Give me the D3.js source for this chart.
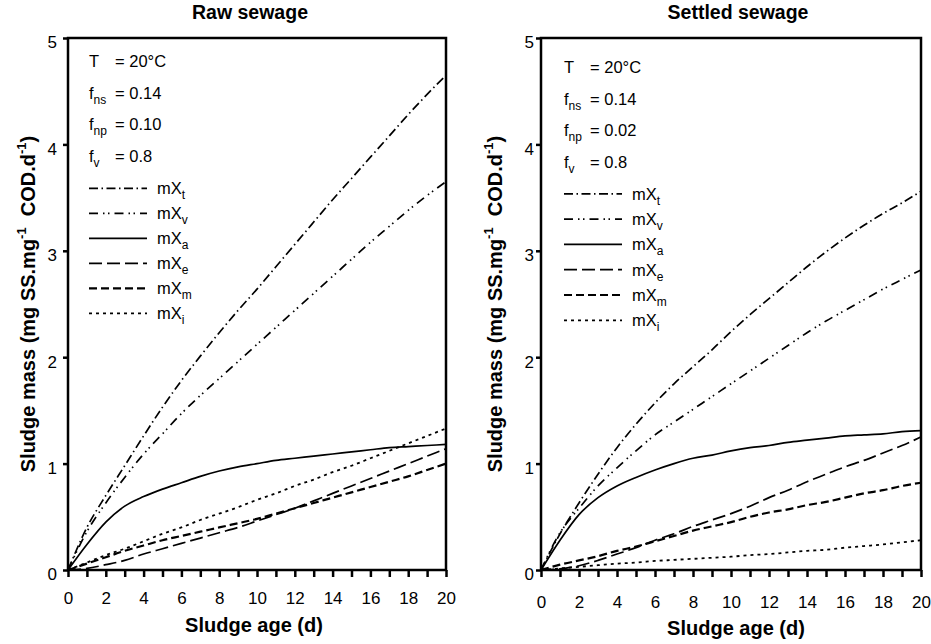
<!DOCTYPE html>
<html>
<head>
<meta charset="utf-8">
<script src="https://cdn.jsdelivr.net/npm/d3@7"></script>
<style>
body { margin: 0; background: #fff; }
text { font-family: "Liberation Sans", Arial, sans-serif; fill: #000; }
</style>
</head>
<body>
<div id="chart"></div>
<script>
// sludge age (d) and tick labels
var ageDays = [0, 1, 2, 3, 4, 5, 6, 7, 8, 9, 10, 11, 12, 13, 14, 15, 16, 17, 18, 19, 20];
var massTicks = [0, 1, 2, 3, 4, 5];

// series names (mX + subscript)
var seriesSubs = ["t", "v", "a", "e", "m", "i"];

// Raw sewage
var rawXt = [0, 0.40, 0.70, 0.98, 1.26, 1.53, 1.78, 2.01, 2.23, 2.44, 2.64, 2.85, 3.06, 3.27, 3.48, 3.68, 3.88, 4.08, 4.28, 4.47, 4.65];
var rawXv = [0, 0.36, 0.63, 0.87, 1.09, 1.28, 1.47, 1.64, 1.80, 1.96, 2.12, 2.28, 2.44, 2.60, 2.76, 2.92, 3.08, 3.23, 3.38, 3.52, 3.65];
var rawXa = [0, 0.24, 0.45, 0.60, 0.69, 0.76, 0.82, 0.88, 0.93, 0.97, 1.00, 1.03, 1.05, 1.07, 1.09, 1.11, 1.13, 1.15, 1.16, 1.17, 1.18];
var rawXe = [0, 0.015, 0.05, 0.09, 0.15, 0.20, 0.25, 0.30, 0.35, 0.40, 0.46, 0.52, 0.58, 0.65, 0.72, 0.79, 0.86, 0.93, 1.00, 1.07, 1.14];
var rawXm = [0, 0.06, 0.12, 0.18, 0.23, 0.28, 0.32, 0.36, 0.40, 0.44, 0.48, 0.53, 0.58, 0.63, 0.68, 0.73, 0.78, 0.83, 0.88, 0.94, 1.00];
var rawXi = [0, 0.07, 0.14, 0.20, 0.27, 0.34, 0.40, 0.47, 0.53, 0.59, 0.66, 0.72, 0.79, 0.85, 0.92, 0.98, 1.05, 1.12, 1.19, 1.26, 1.33];

// Settled sewage
var settledXt = [0, 0.34, 0.63, 0.90, 1.15, 1.37, 1.57, 1.75, 1.91, 2.07, 2.24, 2.40, 2.55, 2.70, 2.85, 2.99, 3.12, 3.24, 3.35, 3.45, 3.56];
var settledXv = [0, 0.35, 0.58, 0.79, 0.96, 1.12, 1.27, 1.39, 1.51, 1.63, 1.75, 1.87, 1.99, 2.11, 2.23, 2.34, 2.44, 2.54, 2.64, 2.73, 2.82];
var settledXa = [0, 0.28, 0.52, 0.68, 0.79, 0.87, 0.94, 1.00, 1.05, 1.08, 1.12, 1.15, 1.17, 1.20, 1.22, 1.24, 1.26, 1.27, 1.28, 1.30, 1.31];
var settledXe = [0, 0.01, 0.04, 0.09, 0.15, 0.21, 0.28, 0.34, 0.41, 0.47, 0.53, 0.60, 0.68, 0.75, 0.83, 0.90, 0.97, 1.03, 1.10, 1.17, 1.25];
var settledXm = [0, 0.05, 0.09, 0.13, 0.18, 0.22, 0.27, 0.32, 0.37, 0.41, 0.45, 0.50, 0.54, 0.57, 0.61, 0.64, 0.68, 0.72, 0.75, 0.79, 0.82];
var settledXi = [0, 0.015, 0.03, 0.045, 0.06, 0.07, 0.085, 0.095, 0.105, 0.115, 0.125, 0.14, 0.15, 0.165, 0.18, 0.19, 0.21, 0.225, 0.24, 0.26, 0.28];

// parameter box
var paramNames = ["T", "f", "f", "f"];
var paramSubs = ["", "ns", "np", "v"];
var rawParams = ["= 20°C", "= 0.14", "= 0.10", "= 0.8"];
var settledParams = ["= 20°C", "= 0.14", "= 0.02", "= 0.8"];

// line styles, same order as seriesSubs
var lineStyles = [
  {dash: "9,3.5,1.5,3.5", w: 1.7},
  {dash: "9,5,1.5,3.5,1.5,5", w: 1.7},
  {dash: null, w: 1.7},
  {dash: "13,5", w: 1.7},
  {dash: "8,4", w: 2.2},
  {dash: "3,4", w: 1.8}
];

var svg = d3.select("#chart")
  .append("svg")
    .attr("width", 931)
    .attr("height", 644);

var plotTop = 38, plotBottom = 570;

var panels = [
  {title: "Raw sewage", titleX: 250, x0: 68, x1: 446, series: [rawXt, rawXv, rawXa, rawXe, rawXm, rawXi],
   params: rawParams, px: 89, py: 67, lineY: 188.3, lineStep: 25, ylabX: 35, xPad: 15, yPad: 6, xlabX: 254, xlabY: 632},
  {title: "Settled sewage", titleX: 738, x0: 541, x1: 921, series: [settledXt, settledXv, settledXa, settledXe, settledXm, settledXi],
   params: settledParams, px: 564, py: 73, lineY: 193.8, lineStep: 25.3, ylabX: 502, xPad: 19, yPad: 2, xlabX: 736, xlabY: 635}
];

function drawPanel(p) {
  var g = svg.append("g");

  var x = d3.scaleLinear().domain([0, 20]).range([p.x0, p.x1]);
  var y = d3.scaleLinear().domain([0, 5]).range([plotBottom, plotTop]);

  // title
  g.append("text")
    .attr("x", p.titleX)
    .attr("y", 19)
    .attr("text-anchor", "middle")
    .style("font-size", "19.5px")
    .style("font-weight", "bold")
    .text(p.title);

  // curves
  var line = d3.line()
    .x(function(d, i) { return x(ageDays[i]); })
    .y(function(d) { return y(d); })
    .curve(d3.curveMonotoneX);

  p.series.forEach(function(s, k) {
    g.append("path")
      .datum(s)
      .attr("fill", "none")
      .attr("stroke", "#000")
      .attr("stroke-width", lineStyles[k].w)
      .attr("stroke-dasharray", lineStyles[k].dash)
      .attr("d", line);
  });

  // frame
  g.append("rect")
    .attr("x", p.x0)
    .attr("y", plotTop)
    .attr("width", p.x1 - p.x0)
    .attr("height", plotBottom - plotTop)
    .attr("fill", "none")
    .attr("stroke", "#000")
    .attr("stroke-width", 2.5);

  // x axis
  var xa = g.append("g")
    .attr("transform", "translate(0," + plotBottom + ")")
    .call(d3.axisBottom(x).tickValues(ageDays).tickSize(7).tickPadding(p.xPad)
      .tickFormat(function(d) { return d % 2 === 0 ? d : ""; }));
  xa.select(".domain").remove();
  xa.selectAll(".tick line").attr("stroke-width", 2.5);
  xa.selectAll("text").style("font-size", "17px").attr("fill", "#000");

  // y axis
  var ya = g.append("g")
    .attr("transform", "translate(" + p.x0 + ",0)")
    .call(d3.axisLeft(y).tickValues(massTicks).tickSize(5).tickPadding(p.yPad)
      .tickFormat(d3.format("d")));
  ya.select(".domain").remove();
  ya.selectAll(".tick line").attr("stroke-width", 2.5);
  ya.selectAll("text").style("font-size", "17px").attr("fill", "#000").attr("dy", "0.58em");

  // axis labels
  g.append("text")
    .attr("x", p.xlabX)
    .attr("y", p.xlabY)
    .attr("text-anchor", "middle")
    .style("font-size", "20px")
    .style("font-weight", "bold")
    .text("Sludge age (d)");

  var yl = g.append("text")
    .attr("transform", "translate(" + p.ylabX + "," + ((plotTop + plotBottom) / 2) + ")rotate(-90)")
    .attr("text-anchor", "middle")
    .style("font-size", "20px")
    .style("font-weight", "bold");
  yl.append("tspan").text("Sludge mass (mg SS.mg");
  yl.append("tspan").attr("dy", -9).style("font-size", "13px").text("-1");
  yl.append("tspan").attr("dy", 9).text("\u00a0 COD.d");
  yl.append("tspan").attr("dy", -9).style("font-size", "13px").text("-1");
  yl.append("tspan").attr("dy", 9).text(")");

  // parameters
  paramNames.forEach(function(n, i) {
    var yy = p.py + i * 31.7;
    var t = g.append("text")
      .attr("x", p.px)
      .attr("y", yy)
      .style("font-size", "16.5px");
    t.append("tspan").text(n);
    if (paramSubs[i]) {
      t.append("tspan").attr("dy", 5).style("font-size", "12px").text(paramSubs[i]);
    }
    g.append("text")
      .attr("x", p.px + 26)
      .attr("y", yy)
      .style("font-size", "16.5px")
      .text(p.params[i]);
  });

  // legend
  seriesSubs.forEach(function(sub, k) {
    var ly = p.lineY + k * p.lineStep;
    g.append("line")
      .attr("x1", p.px)
      .attr("x2", p.px + 58)
      .attr("y1", ly)
      .attr("y2", ly)
      .attr("stroke", "#000")
      .attr("stroke-width", lineStyles[k].w)
      .attr("stroke-dasharray", lineStyles[k].dash);
    var t = g.append("text")
      .attr("x", p.px + 68)
      .attr("y", ly + 6)
      .style("font-size", "16.5px");
    t.append("tspan").text("mX");
    t.append("tspan").attr("dy", 5).style("font-size", "12px").text(sub);
  });
}

panels.forEach(drawPanel);
</script>
</body>
</html>
